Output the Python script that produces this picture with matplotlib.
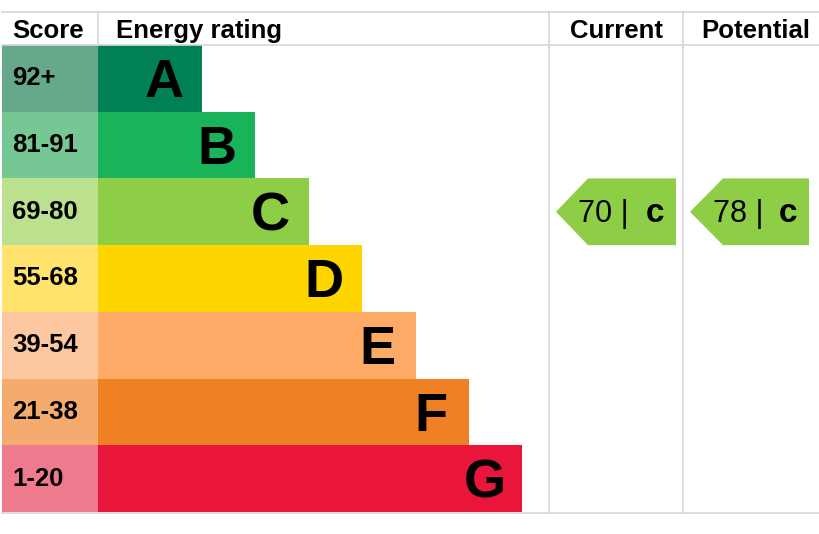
import numpy as np
import matplotlib.pyplot as plt
from matplotlib.patches import Rectangle, Polygon

bands = ['A', 'B', 'C', 'D', 'E', 'F', 'G']
scores = ['92+', '81-91', '69-80', '55-68', '39-54', '21-38', '1-20']
bar_colors = ['#008054', '#19b459', '#8dce46', '#ffd500', '#fcaa65', '#ef8023', '#e9153b']
score_colors = ['#66a98a', '#75c894', '#bbe08e', '#ffe36c', '#fdc7a0', '#f5ab6e', '#f07a8d']
current = (70, 'C')
potential = (78, 'C')

plt.rcParams['font.family'] = ['Liberation Sans', 'DejaVu Sans']

W, H = 820, 534
fig = plt.figure(figsize=(W / 100, H / 100), dpi=100)
ax = fig.add_axes([0, 0, 1, 1])
ax.set_xlim(0, W)
ax.set_ylim(H, 0)
ax.axis('off')

top, head, bottom = 12, 45, 512
row_h = (bottom - head) / 7
score_x0, bar_x0 = 2, 98
col_cur, col_pot, right = 549, 683, 820
grid = '#d6d6d6'

# header
hkw = dict(fontsize=18.5, fontweight='bold', va='baseline')
ax.text(12, 38, 'Score', ha='left', **hkw)
ax.text(116, 38, 'Energy rating', ha='left', **hkw)
ax.text(617, 38, 'Current', ha='center', **hkw)
ax.text(756, 38, 'Potential', ha='center', **hkw)

# rating rows
for i, (b, s) in enumerate(zip(bands, scores)):
    y0 = head + i * row_h
    yc = y0 + row_h / 2
    bar_end = 202 + i * 53.4
    ax.add_patch(Rectangle((score_x0, y0), bar_x0 - score_x0, row_h, color=score_colors[i], lw=0))
    ax.add_patch(Rectangle((bar_x0, y0), bar_end - bar_x0, row_h, color=bar_colors[i], lw=0))
    ax.text(12, yc + 7, s, fontsize=18.5, fontweight='bold', ha='left', va='baseline')
    ax.text(bar_end - 38, yc + 19, b, fontsize=39, fontweight='bold', ha='center', va='baseline')

# grid lines
ax.plot([score_x0, right], [top, top], color=grid, lw=1.2)
ax.plot([score_x0, right], [head, head], color=grid, lw=1.2)
ax.plot([score_x0, right], [bottom + 1, bottom + 1], color=grid, lw=1.2)
ax.plot([bar_x0, bar_x0], [top, head], color=grid, lw=1.2)
for x in (col_cur, col_pot):
    ax.plot([x, x], [top, bottom + 1], color=grid, lw=1.2)


def arrow(val, band, x_tip, x_rect, x_end):
    i = bands.index(band)
    y0 = head + i * row_h
    y1 = y0 + row_h
    ym = (y0 + y1) / 2
    ax.add_patch(Polygon([(x_tip, ym), (x_rect, y0), (x_end, y0), (x_end, y1), (x_rect, y1)],
                         closed=True, color=bar_colors[i], lw=0))
    ax.text(x_rect - 10, ym + 10, f'{val} |', fontsize=22, ha='left', va='baseline')
    ax.text(x_end - 21, ym + 10, band.lower(), fontsize=24, fontweight='bold', ha='center', va='baseline')


arrow(current[0], current[1], 556, 588, 676)
arrow(potential[0], potential[1], 690, 723, 809)

fig.savefig('out.png', dpi=100)
